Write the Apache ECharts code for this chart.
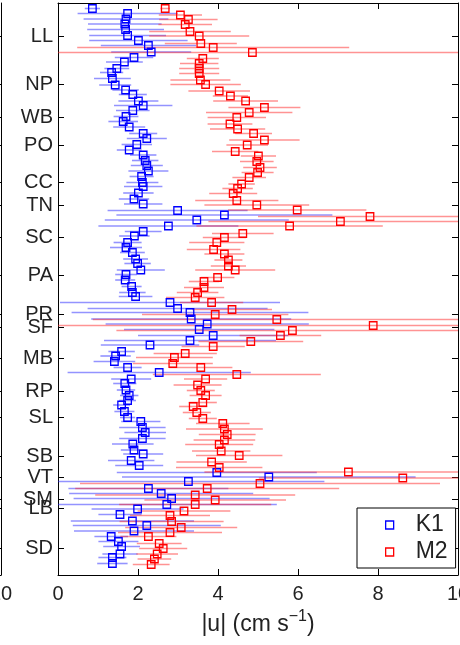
<!DOCTYPE html>
<html>
<head>
<meta charset="utf-8">
<script src="https://cdn.jsdelivr.net/npm/echarts@6/dist/echarts.min.js"></script>
<style>
  html, body { margin: 0; padding: 0; background: #fff; }
  #chart { width: 460px; height: 645px; }
</style>
</head>
<body>
<div id="chart"></div>
<script>
// station labels on the vertical axis and where they sit (row index, top = 0)
var stationNames = ['LL', 'NP', 'WB', 'PO', 'CC', 'TN', 'SC', 'PA', 'PR', 'SF', 'MB', 'RP', 'SL', 'SB', 'VT', 'SM', 'LB', 'SD'];
var stationPos = [6.6, 16.2, 22.8, 28.4, 35.8, 40.4, 46.8, 54.4, 62.2, 64.8, 71.0, 77.6, 82.8, 90.6, 94.8, 99.2, 101.0, 109.0];

// K1 : row, |u| and error half width
var k1Row = [1.1, 2.1, 3.2, 4.2, 5.3, 6.5, 7.5, 8.5, 9.8, 10.9,
  11.8, 13.1, 13.9, 15.1, 16.4, 17.4, 18.3, 19.6, 20.5, 21.5,
  22.7, 23.7, 24.8, 26.1, 27.1, 28.3, 29.4, 30.4, 31.5, 32.5,
  33.6, 34.7, 35.9, 36.7, 38.0, 39.2, 40.2, 41.5, 42.4, 43.4,
  44.6, 45.7, 46.6, 47.9, 48.9, 49.9, 51.2, 52.1, 53.4, 54.3,
  55.4, 56.7, 57.9, 58.7, 59.9, 61.1, 61.9, 63.2, 64.2, 65.3,
  66.5, 67.5, 68.4, 69.7, 70.6, 71.7, 72.9, 73.9, 75.2, 76.1,
  77.4, 78.5, 79.5, 80.4, 81.7, 82.9, 83.7, 84.9, 85.9, 87.1,
  88.2, 89.4, 90.2, 91.5, 92.5, 93.9, 94.8, 95.7, 97.1, 98.1,
  99.1, 100.3, 101.2, 102.3, 103.6, 104.5, 105.6, 106.7, 107.7, 108.7,
  110.2, 110.9, 112.1];
var k1Val = [0.86, 1.74, 1.70, 1.67, 1.69, 1.74, 2.01, 2.26, 2.33, 1.90,
  1.66, 1.47, 1.34, 1.36, 1.43, 1.69, 1.87, 2.01, 2.13, 1.87,
  1.70, 1.63, 1.78, 2.13, 2.22, 1.97, 1.78, 2.13, 2.18, 2.22,
  2.26, 2.09, 2.11, 2.13, 2.01, 1.90, 2.13, 2.99, 4.16, 3.47,
  2.76, 2.13, 1.91, 1.74, 1.70, 1.86, 1.94, 1.99, 2.07, 1.70,
  1.68, 1.84, 1.86, 1.94, 2.80, 2.99, 3.30, 3.33, 3.73, 3.53,
  3.88, 3.30, 2.30, 1.59, 1.44, 1.41, 1.74, 2.53, 1.83, 1.67,
  1.70, 1.78, 1.74, 1.59, 1.66, 1.74, 2.07, 2.11, 2.18, 2.11,
  1.87, 1.90, 2.13, 1.83, 2.03, 3.97, 5.27, 3.26, 2.26, 2.58,
  2.84, 2.72, 1.99, 1.55, 1.86, 2.22, 1.90, 1.33, 1.51, 1.59,
  1.55, 1.36, 1.36];
var k1Err = [0.19, 1.25, 1.06, 0.92, 0.96, 0.96, 1.23, 1.19, 1.0, 0.48,
  0.46, 0.31, 0.29, 0.46, 0.4, 0.33, 0.35, 0.5, 0.73, 0.42,
  0.31, 0.37, 0.4, 0.35, 0.5, 0.38, 0.31, 0.33, 0.33, 0.4,
  0.5, 0.3, 0.4, 0.48, 0.38, 0.38, 0.48, 1.75, 2.7, 2.3,
  1.75, 0.46, 0.38, 0.35, 0.4, 0.31, 0.31, 0.33, 0.6, 0.27,
  0.25, 0.25, 0.33, 0.42, 2.75, 2.25, 2.96, 2.5, 2.54, 1.88,
  1.88, 2.15, 1.23, 0.33, 0.38, 0.52, 0.35, 2.29, 0.5, 0.29,
  0.23, 0.23, 0.21, 0.21, 0.25, 0.19, 0.49, 0.58, 0.52, 0.58,
  0.52, 0.33, 0.5, 0.58, 0.6, 2.5, 3.67, 3.4, 2.0, 2.3,
  2.45, 2.75, 1.15, 0.54, 1.54, 1.85, 1.5, 0.42, 0.5, 0.46,
  0.44, 0.35, 0.38];

// M2
var m2Row = [1.1, 2.4, 3.3, 4.3, 5.7, 6.6, 8.1, 8.9, 9.9, 11.1,
  12.1, 13.1, 14.1, 15.4, 16.3, 17.6, 18.6, 19.6, 20.9, 21.9,
  22.9, 24.2, 25.2, 26.1, 27.4, 28.4, 29.7, 30.6, 31.7, 32.9,
  33.9, 34.9, 36.2, 37.1, 38.1, 39.5, 40.4, 41.4, 42.7, 43.7,
  44.6, 46.1, 46.9, 47.9, 49.3, 50.2, 51.4, 52.6, 53.4, 54.9,
  55.7, 56.9, 57.9, 58.9, 59.9, 61.3, 62.3, 63.3, 64.5, 65.5,
  66.5, 67.7, 68.7, 70.1, 70.9, 72.1, 72.9, 74.3, 75.2, 76.4,
  77.5, 78.5, 79.9, 80.7, 81.9, 83.1, 84.1, 85.2, 86.3, 87.4,
  88.3, 89.6, 90.5, 91.8, 92.9, 93.8, 95.0, 96.1, 97.1, 98.4,
  99.4, 100.3, 101.6, 102.5, 103.7, 104.9, 105.9, 106.7, 108.1, 109.1,
  110.2, 111.2, 112.3];
var m2Val = [2.68, 3.06, 3.26, 3.18, 3.30, 3.53, 3.57, 3.88, 4.86, 3.62,
  3.53, 3.53, 3.53, 3.56, 3.69, 4.03, 4.31, 4.69, 5.16, 4.78,
  4.47, 4.30, 4.49, 4.89, 5.16, 4.73, 4.43, 5.01, 4.97, 5.05,
  4.99, 4.78, 4.59, 4.49, 4.38, 4.47, 4.97, 5.98, 7.80, 7.06,
  5.79, 4.62, 4.16, 3.97, 3.89, 4.16, 4.26, 4.26, 4.43, 3.99,
  3.65, 3.65, 3.49, 3.43, 3.84, 4.35, 3.93, 5.47, 7.88, 5.86,
  5.56, 4.82, 3.88, 3.18, 2.91, 2.87, 3.57, 4.47, 3.69, 3.49,
  3.57, 3.69, 3.62, 3.38, 3.47, 3.62, 4.12, 4.16, 4.23, 4.16,
  4.03, 4.08, 4.53, 3.84, 4.03, 7.26, 8.62, 5.05, 3.73, 3.43,
  3.93, 3.43, 3.15, 2.80, 2.84, 3.08, 2.80, 2.26, 2.53, 2.63,
  2.48, 2.41, 2.33];
var m2Err = [0.12, 0.54, 0.73, 0.67, 1.02, 1.25, 0.9, 3.4, 5.5, 0.4,
  0.48, 0.5, 0.5, 0.75, 0.88, 0.77, 0.44, 0.81, 0.9, 1.08,
  0.73, 0.56, 0.69, 0.46, 0.88, 0.52, 0.58, 0.44, 0.42, 0.42,
  0.4, 0.42, 0.33, 0.38, 0.6, 1.04, 1.31, 1.73, 2.8, 3.3,
  2.33, 0.77, 0.54, 0.69, 0.67, 0.5, 0.35, 0.44, 1.0, 0.42,
  0.38, 0.5, 0.52, 0.73, 0.79, 1.0, 1.83, 4.6, 7.9, 4.4,
  1.02, 1.31, 0.79, 0.79, 0.96, 1.0, 0.79, 2.1, 0.54, 0.6,
  0.35, 0.4, 0.35, 0.35, 0.35, 0.35, 0.67, 0.96, 0.71, 0.77,
  0.85, 0.73, 1.08, 0.88, 1.08, 3.6, 3.6, 4.5, 3.3, 2.5,
  1.77, 1.9, 1.16, 1.0, 1.3, 1.4, 1.3, 0.7, 0.56, 0.6,
  0.52, 0.42, 0.46];

var FONT = '"Liberation Sans", Arial, Helvetica, sans-serif';
var chart = echarts.init(document.getElementById('chart'));

function zip(rows, vals, errs) {
  return rows.map(function (r, i) { return [vals[i], r, errs[i]]; });
}

function errBars(name, rows, vals, errs, color) {
  return {
    name: name,
    type: 'custom',
    xAxisIndex: 0,
    yAxisIndex: 0,
    clip: true,
    silent: true,
    data: zip(rows, vals, errs),
    encode: { x: 0, y: 1 },
    renderItem: function (params, api) {
      var v = api.value(0), r = api.value(1), e = api.value(2);
      var a = api.coord([v - e, r]);
      var b = api.coord([v + e, r]);
      return {
        type: 'line',
        shape: { x1: a[0], y1: a[1], x2: b[0], y2: b[1] },
        style: { stroke: color, lineWidth: 1.6 }
      };
    }
  };
}

function squares(name, rows, vals, errs, color) {
  return {
    name: name,
    type: 'scatter',
    xAxisIndex: 0,
    yAxisIndex: 0,
    symbol: 'rect',
    symbolSize: 7.5,
    data: zip(rows, vals, errs),
    itemStyle: { color: 'rgba(0,0,0,0)', borderColor: color, borderWidth: 1.3, opacity: 1 }
  };
}

var frame = { show: true, onZero: false, lineStyle: { color: '#000', width: 1 } };
var ticks = { show: true, inside: true, length: 6, lineStyle: { color: '#000', width: 1 } };

var option = {
  animation: false,
  backgroundColor: '#fff',
  grid: [
    { left: 58, right: 2, top: 3, bottom: 70, outerBoundsMode: 'none', containLabel: false },
    { left: -399, width: 400, top: 3, bottom: 70, outerBoundsMode: 'none', containLabel: false }
  ],
  xAxis: [
    {
      gridIndex: 0, type: 'value', min: 0, max: 10, interval: 2, position: 'bottom',
      axisLine: frame, axisTick: ticks, splitLine: { show: false },
      axisLabel: { fontSize: 20, color: '#222', margin: 9, fontFamily: FONT },
      name: '|u| (cm s{sup|\u22121})',
      nameLocation: 'middle',
      nameGap: 38,
      nameTextStyle: {
        fontSize: 23, color: '#222', fontFamily: FONT, lineHeight: 32, verticalAlign: 'bottom',
        rich: { sup: { fontSize: 16, color: '#222', fontFamily: FONT, verticalAlign: 'top', lineHeight: 16 } }
      }
    },
    {
      gridIndex: 0, type: 'value', min: 0, max: 10, interval: 2, position: 'top',
      axisLine: frame, axisTick: ticks, axisLabel: { show: false }, splitLine: { show: false }
    },
    {
      gridIndex: 1, type: 'value', min: 0, max: 10, interval: 2, position: 'bottom',
      axisLine: frame, axisTick: ticks, splitLine: { show: false },
      axisLabel: { fontSize: 20, color: '#222', margin: 9, fontFamily: FONT }
    }
  ],
  yAxis: [
    {
      gridIndex: 0, type: 'value', inverse: true, min: 0, max: 114.4, position: 'left',
      axisLine: frame, splitLine: { show: false },
      axisTick: Object.assign({ customValues: stationPos }, ticks),
      axisLabel: {
        customValues: stationPos, margin: 5, fontSize: 20, color: '#222', fontFamily: FONT,
        formatter: function (val) {
          var i = stationPos.indexOf(val);
          return i >= 0 ? stationNames[i] : '';
        }
      }
    },
    {
      gridIndex: 0, type: 'value', inverse: true, min: 0, max: 114.4, position: 'right',
      axisLine: frame, splitLine: { show: false },
      axisTick: Object.assign({ customValues: stationPos }, ticks),
      axisLabel: { show: false }
    },
    {
      gridIndex: 1, type: 'value', inverse: true, min: 0, max: 114.4, position: 'right',
      axisLine: frame, splitLine: { show: false },
      axisTick: Object.assign({ customValues: stationPos }, ticks),
      axisLabel: { show: false }
    }
  ],
  legend: {
    left: 357, top: 508, orient: 'vertical',
    itemWidth: 8, itemHeight: 8, itemGap: 3,
    padding: [5, 8, 4, 28],
    borderColor: '#000', borderWidth: 1, borderRadius: 0, backgroundColor: '#fff',
    selectedMode: false,
    textStyle: { fontSize: 23, color: '#222', fontFamily: FONT, lineHeight: 24, padding: [0, 0, 0, 17] },
    data: [
      { name: 'K1', icon: 'rect', itemStyle: { color: 'rgba(0,0,0,0)', borderColor: '#0000ff', borderWidth: 1.3 } },
      { name: 'M2', icon: 'rect', itemStyle: { color: 'rgba(0,0,0,0)', borderColor: '#ff0000', borderWidth: 1.3 } }
    ]
  },
  series: [
    errBars('K1 err', k1Row, k1Val, k1Err, 'rgba(40,40,255,0.5)'),
    errBars('M2 err', m2Row, m2Val, m2Err, 'rgba(255,40,40,0.5)'),
    squares('K1', k1Row, k1Val, k1Err, '#0000ff'),
    squares('M2', m2Row, m2Val, m2Err, '#ff0000')
  ]
};

chart.setOption(option);
</script>
</body>
</html>
